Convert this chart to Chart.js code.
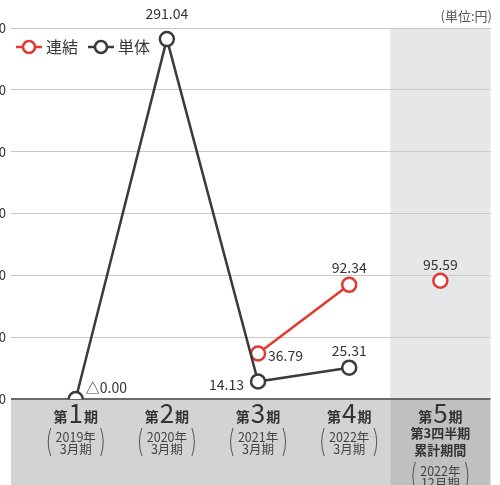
<!DOCTYPE html>
<html>
<head>
<meta charset="utf-8">
<script src="https://cdn.jsdelivr.net/npm/chart.js@4.4.1/dist/chart.umd.min.js"></script>
<style>
  body { margin: 0; background: #fff; }
  #wrap { position: relative; width: 500px; height: 485px; }
</style>
</head>
<body>
<div id="wrap"><canvas id="myChart" width="500" height="485"></canvas></div>
<script>
//Data_
const periodNums = ['1', '2', '3', '4', '5'];
const periodSubs = [[], [], [], [], ['第3四半期', '累計期間']];
const periodYears = [['2019年', '3月期'], ['2020年', '3月期'], ['2021年', '3月期'], ['2022年', '3月期'], ['2022年', '12月期']];
const renketsu = [null, null, 36.79, 92.34, 95.59];
const tantai = [0.00, 291.04, 14.13, 25.31, null];
const seriesNames = ['連結', '単体'];
const yMin = 0, yMax = 300, yStep = 50;
const unitText = '(単位:円)';

//Styles_
const RED = '#e2392e';
const DARK = '#3b3b3b';
const FONT = '"Noto Sans CJK JP", "Noto Sans", sans-serif';
// label placement per point: [dx, dy, align]
const renLabelPos = [null, null, [10, 2, 'left'], [0, -17, 'center'], [0, -16, 'center']];
const tanLabelPos = [[10, -11, 'left'], [0, -25, 'center'], [-14, 3, 'right'], [0, -17, 'center'], null];

function fmt(v) {
    return v <= 0 ? '△' + Math.abs(v).toFixed(2) : v.toFixed(2);
}

function toPoints(arr) {
    return arr.map((v, i) => ({ x: i, y: v }));
}

function drawParen(ctx, x, y1, y2, dir) {
    ctx.beginPath();
    ctx.moveTo(x, y1);
    ctx.quadraticCurveTo(x - dir * 5, (y1 + y2) / 2, x, y2);
    ctx.stroke();
}

const bgPlugin = {
    id: 'bands',
    beforeDraw(chart) {
        const { ctx, chartArea, scales } = chart;
        const xs = scales.x;
        const split = xs.getPixelForValue(3.45);
        ctx.save();
        ctx.fillStyle = '#e6e7e9';
        ctx.fillRect(split, chartArea.top, chartArea.right - split, chartArea.bottom - chartArea.top);
        ctx.fillStyle = '#d2d3d5';
        ctx.fillRect(chartArea.left, chartArea.bottom, split - chartArea.left, chart.height - chartArea.bottom);
        ctx.fillStyle = '#bfc0c2';
        ctx.fillRect(split, chartArea.bottom, chartArea.right - split, chart.height - chartArea.bottom);
        ctx.restore();
    },
    afterDraw(chart) {
        const { ctx, chartArea, scales } = chart;
        const xs = scales.x, ys = scales.y;
        ctx.save();
        // data labels
        ctx.fillStyle = '#333';
        ctx.font = '14px ' + FONT;
        ctx.textBaseline = 'middle';
        [[renketsu, renLabelPos], [tantai, tanLabelPos]].forEach(([arr, pos]) => {
            arr.forEach((v, i) => {
                if (v === null || !pos[i]) return;
                ctx.textAlign = pos[i][2];
                ctx.fillText(fmt(v), xs.getPixelForValue(i) + pos[i][0], ys.getPixelForValue(v) + pos[i][1]);
            });
        });
        // category labels
        const base = chartArea.bottom;
        periodNums.forEach((n, i) => {
            const cx = xs.getPixelForValue(i);
            ctx.fillStyle = '#333';
            ctx.textBaseline = 'alphabetic';
            ctx.font = 'bold 14px ' + FONT;
            const wa = ctx.measureText('第').width;
            const wc = ctx.measureText('期').width;
            ctx.font = '26px ' + FONT;
            const wn = ctx.measureText(n).width;
            let x0 = cx - (wa + wn + wc + 2) / 2;
            ctx.textAlign = 'left';
            ctx.font = 'bold 14px ' + FONT;
            ctx.fillText('第', x0, base + 23);
            ctx.font = '26px ' + FONT;
            ctx.fillText(n, x0 + wa + 1, base + 24);
            ctx.font = 'bold 14px ' + FONT;
            ctx.fillText('期', x0 + wa + wn + 2, base + 23);
            let y = base + 38;
            ctx.textAlign = 'center';
            ctx.textBaseline = 'middle';
            ctx.font = 'bold 13px ' + FONT;
            periodSubs[i].forEach(s => {
                ctx.fillText(s, cx, y - 4);
                y += 17;
            });
            ctx.font = '12.5px ' + FONT;
            ctx.fillStyle = '#444';
            const yr = periodYears[i];
            ctx.fillText(yr[0], cx, y);
            ctx.fillText(yr[1], cx, y + 12);
            ctx.strokeStyle = '#555';
            ctx.lineWidth = 1;
            drawParen(ctx, cx - 25, y - 9, y + 19, 1);
            drawParen(ctx, cx + 25, y - 9, y + 19, -1);
        });
        // unit
        ctx.font = '13px ' + FONT;
        ctx.fillStyle = '#555';
        ctx.textAlign = 'right';
        ctx.textBaseline = 'middle';
        ctx.fillText(unitText, 492, 16);
        // legend
        const legend = [[RED, 16, seriesNames[0]], [DARK, 88, seriesNames[1]]];
        legend.forEach(([col, lx, name]) => {
            ctx.strokeStyle = col;
            ctx.lineWidth = 2.5;
            ctx.beginPath();
            ctx.moveTo(lx, 47);
            ctx.lineTo(lx + 26, 47);
            ctx.stroke();
            ctx.beginPath();
            ctx.arc(lx + 13, 47, 6, 0, Math.PI * 2);
            ctx.fillStyle = '#fff';
            ctx.fill();
            ctx.stroke();
            ctx.fillStyle = '#333';
            ctx.font = '16px ' + FONT;
            ctx.textAlign = 'left';
            ctx.fillText(name, lx + 30, 47);
        });
        ctx.restore();
    }
};

const dsCommon = {
    borderWidth: 2.5,
    pointRadius: 7,
    pointHoverRadius: 7,
    pointBorderWidth: 2.5,
    pointBackgroundColor: '#fff',
    tension: 0,
    spanGaps: false
};

const config = {
    type: 'line',
    data: {
        datasets: [
            Object.assign({}, dsCommon, {
                label: seriesNames[1],
                data: toPoints(tantai),
                borderColor: DARK,
                pointBorderColor: DARK
            }),
            Object.assign({}, dsCommon, {
                label: seriesNames[0],
                data: toPoints(renketsu),
                borderColor: RED,
                pointBorderColor: RED,
                segment: {
                    borderColor: c => c.p1DataIndex === 4 ? 'rgba(0,0,0,0)' : RED
                }
            })
        ]
    },
    options: {
        responsive: false,
        animation: false,
        layout: { padding: { top: 28, bottom: 86, right: 8, left: 0 } },
        plugins: { legend: { display: false }, tooltip: { enabled: false } },
        scales: {
            x: {
                type: 'linear',
                display: false,
                min: -0.71,
                max: 4.55
            },
            y: {
                min: yMin,
                max: yMax,
                afterFit: s => { s.width = 11; },
                border: { display: false },
                grid: {
                    drawTicks: false,
                    color: c => c.tick.value === 0 ? '#6a6a6a' : '#c9c9c9',
                    lineWidth: c => c.tick.value === 0 ? 2 : 1
                },
                ticks: {
                    stepSize: yStep,
                    padding: 5,
                    color: '#333',
                    font: { size: 13, family: FONT }
                }
            }
        }
    },
    plugins: [bgPlugin]
};

const chart = new Chart(document.getElementById('myChart'), config);
</script>
</body>
</html>
